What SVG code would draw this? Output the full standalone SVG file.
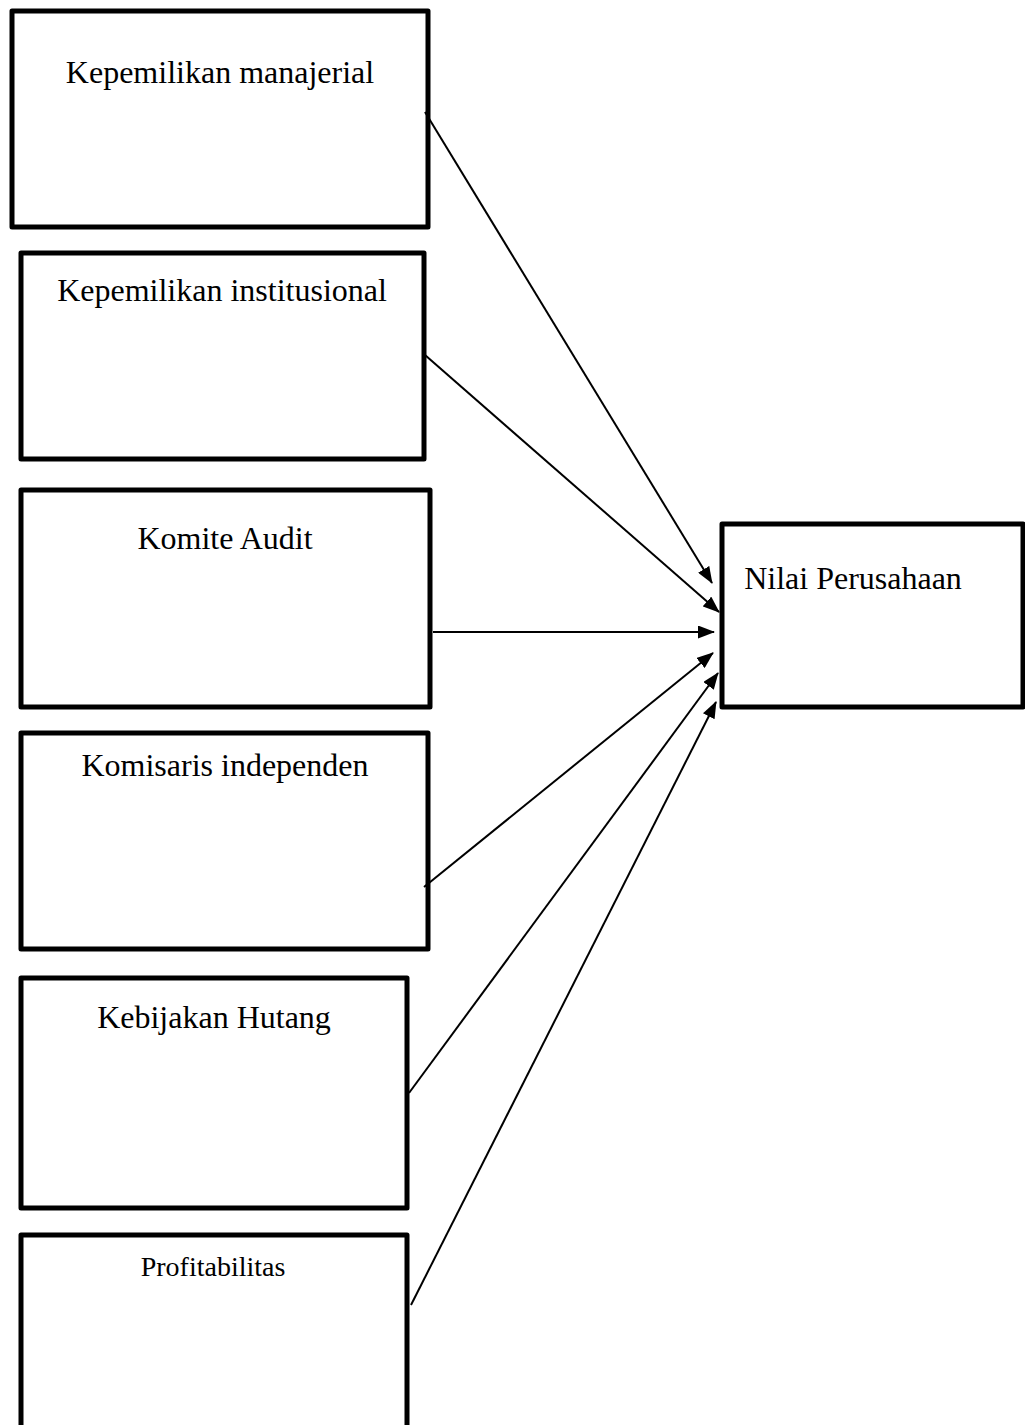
<svg xmlns="http://www.w3.org/2000/svg" width="1025" height="1425" viewBox="0 0 1025 1425">
<style>
.box{fill:#fff;stroke:#000;stroke-width:5;stroke-linejoin:round}
.lbl{font-family:"Liberation Serif","Times New Roman",serif;font-size:32px;fill:#000;text-anchor:middle}
.con{stroke:#000;stroke-width:2;fill:none;marker-end:url(#ah)}
</style>
<defs>
<marker id="ah" markerWidth="17" markerHeight="13" refX="16" refY="6.5" orient="auto" markerUnits="userSpaceOnUse">
<path d="M0,0 L17,6.5 L0,13 Z" fill="#000"/>
</marker>
</defs>
<rect width="1025" height="1425" fill="#fff"/>
<g id="n1"><rect class="box" x="12" y="11" width="416" height="216"/><text class="lbl" x="220" y="83">Kepemilikan manajerial</text></g>
<g id="n2"><rect class="box" x="21" y="253" width="403" height="206"/><text class="lbl" x="222" y="301">Kepemilikan institusional</text></g>
<g id="n3"><rect class="box" x="21" y="490" width="409" height="217"/><text class="lbl" x="225" y="549">Komite Audit</text></g>
<g id="n4"><rect class="box" x="21" y="733" width="407" height="216"/><text class="lbl" x="225" y="776">Komisaris independen</text></g>
<g id="n5"><rect class="box" x="21" y="978" width="386" height="230"/><text class="lbl" x="214" y="1028">Kebijakan Hutang</text></g>
<g id="n6"><rect class="box" x="21" y="1235" width="386" height="200"/><text class="lbl" x="213" y="1276" style="font-size:28px">Profitabilitas</text></g>
<g id="n7"><rect class="box" x="722" y="524" width="301" height="183"/><text class="lbl" x="853" y="589">Nilai Perusahaan</text></g>
<g id="connectors">
<line class="con" x1="425" y1="112" x2="712" y2="583"/>
<line class="con" x1="425" y1="355" x2="719" y2="612"/>
<line class="con" x1="433" y1="632" x2="714" y2="632"/>
<line class="con" x1="424" y1="887" x2="713" y2="653"/>
<line class="con" x1="409" y1="1093" x2="718" y2="673"/>
<line class="con" x1="411" y1="1305" x2="716" y2="702"/>
</g>
</svg>
